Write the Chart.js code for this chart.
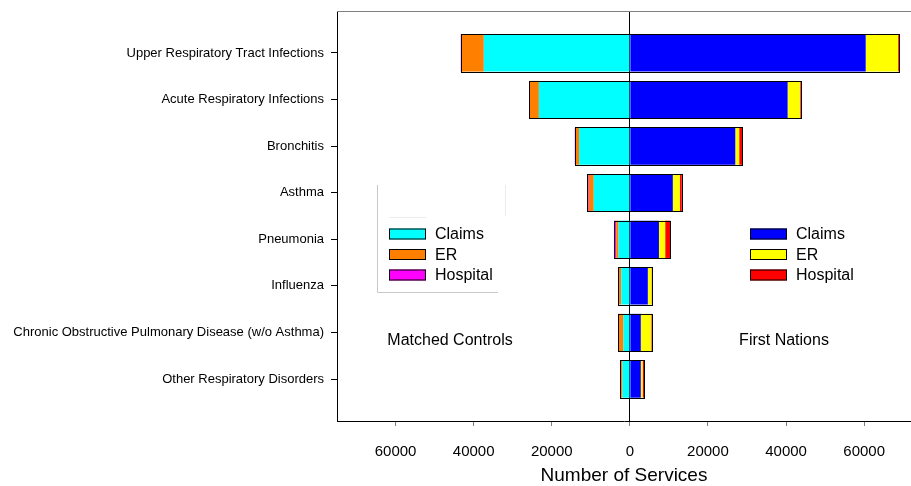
<!DOCTYPE html>
<html><head><meta charset="utf-8">
<script src="https://cdn.jsdelivr.net/npm/chart.js@4.4.1/dist/chart.umd.min.js"></script>
<style>html,body{margin:0;padding:0;background:#fff}#wrap{width:911px;height:486px;position:relative}</style>
</head><body><div id="wrap"><canvas id="c"></canvas></div>
<script>
const categories = [
  'Upper Respiratory Tract Infections',
  'Acute Respiratory Infections',
  'Bronchitis',
  'Asthma',
  'Pneumonia',
  'Influenza',
  'Chronic Obstructive Pulmonary Disease (w/o Asthma)',
  'Other Respiratory Disorders'
];
const seriesNames = ['Claims', 'ER', 'Hospital'];
// Matched Controls (drawn to the left)
const controlsClaims   = [37400, 23300, 13000, 9250, 2900, 2200, 1650, 1880];
const controlsER       = [5700, 2400, 850, 1280, 600, 700, 1200, 430];
const controlsHospital = [200, 100, 250, 350, 500, 100, 100, 100];
// First Nations (drawn to the right)
const fnClaims   = [60400, 40400, 27000, 11000, 7450, 4600, 2800, 2800];
const fnER       = [8300, 3150, 1000, 1800, 1600, 950, 2650, 500];
const fnHospital = [250, 200, 800, 500, 1280, 150, 150, 350];
const xTickValues = [-60000, -40000, -20000, 0, 20000, 40000, 60000];

Chart.defaults.font.family = "'Liberation Sans', Arial, sans-serif";
Chart.defaults.color = '#000';

const toPts = (arr, sign) => arr.map((v, i) => ({ x: sign * v, y: i }));

const ds = (label, arr, sign, color, group) => ({
  label, group, data: toPts(arr, sign), backgroundColor: color,
  borderWidth: 0, stack: 'all', barPercentage: 0.8, categoryPercentage: 1.0
});

const datasets = [
  ds('Claims', controlsClaims, -1, '#00FFFF', 'left'),
  ds('ER', controlsER, -1, '#FF8000', 'left'),
  ds('Hospital', controlsHospital, -1, '#FF00FF', 'left'),
  ds('Claims', fnClaims, 1, '#0000FF', 'right'),
  ds('ER', fnER, 1, '#FFFF00', 'right'),
  ds('Hospital', fnHospital, 1, '#FF0000', 'right')
];

const decor = {
  id: 'decor',
  afterDatasetsDraw(chart) {
    const ctx = chart.ctx;
    const ca = chart.chartArea;
    ctx.save();
    // outline each stacked bar
    ctx.strokeStyle = '#000';
    ctx.lineWidth = 1;
    for (let i = 0; i < categories.length; i++) {
      let l = Infinity, r = -Infinity, t = 0, b = 0;
      chart.data.datasets.forEach((d, di) => {
        const el = chart.getDatasetMeta(di).data[i];
        if (!el) return;
        const p = el.getProps(['x', 'y', 'base', 'height'], true);
        l = Math.min(l, p.x, p.base); r = Math.max(r, p.x, p.base);
        t = p.y - p.height / 2; b = p.y + p.height / 2;
      });
      ctx.strokeRect(Math.round(l) + 0.5, Math.round(t) + 0.5, Math.round(r) - Math.round(l), Math.round(b) - Math.round(t));
    }
    // top frame line
    ctx.strokeStyle = '#808080';
    ctx.beginPath();
    ctx.moveTo(ca.left, ca.top + 0.5);
    ctx.lineTo(ca.right, ca.top + 0.5);
    ctx.stroke();

    // left legend frame remnants
    ctx.strokeStyle = '#c8c8c8';
    ctx.beginPath();
    ctx.moveTo(377.5, 185); ctx.lineTo(377.5, 292.5);
    ctx.lineTo(498, 292.5);
    ctx.stroke();
    ctx.strokeStyle = '#ececec';
    ctx.beginPath();
    ctx.moveTo(505.5, 185); ctx.lineTo(505.5, 216);
    ctx.moveTo(389, 217.5); ctx.lineTo(426, 217.5);
    ctx.stroke();

    // legends
    const drawLegend = (group, sx, tx) => {
      const rows = [234, 254.5, 275];
      const items = chart.data.datasets.filter(d => d.group === group);
      ctx.font = "16px 'Liberation Sans', Arial, sans-serif";
      ctx.textBaseline = 'middle';
      ctx.textAlign = 'left';
      items.forEach((d, k) => {
        const y = rows[k];
        ctx.fillStyle = d.backgroundColor;
        ctx.fillRect(sx, y - 5.5, 37, 11);
        ctx.strokeStyle = '#000';
        ctx.lineWidth = 1;
        ctx.strokeRect(sx + 0.5, y - 5.5 + 0.5, 36, 10);
        ctx.fillStyle = '#000';
        ctx.fillText(seriesNames[k], tx, y + 1);
      });
    };
    drawLegend('left', 389, 435);
    drawLegend('right', 750, 796);

    ctx.font = "16px 'Liberation Sans', Arial, sans-serif";
    ctx.textAlign = 'center';
    ctx.textBaseline = 'middle';
    ctx.fillStyle = '#000';
    ctx.fillText('Matched Controls', 450, 341);
    ctx.fillText('First Nations', 784, 341);
    ctx.restore();
  }
};

new Chart(document.getElementById('c'), {
  type: 'bar',
  data: { datasets },
  options: {
    indexAxis: 'y',
    responsive: true,
    maintainAspectRatio: false,
    animation: false,
    layout: { padding: { top: 11, right: 0, left: 0, bottom: 0 } },
    plugins: { legend: { display: false }, tooltip: { enabled: false } },
    scales: {
      x: {
        type: 'linear',
        stacked: true,
        min: -75000,
        max: 72000,
        afterBuildTicks: s => { s.ticks = xTickValues.map(v => ({ value: v })); },
        afterFit: s => { s.height = 65; s.paddingLeft = 0; s.paddingRight = 0; },
        ticks: {
          callback: v => String(Math.abs(v)),
          font: { size: 15 },
          padding: 17,
          maxRotation: 0,
          autoSkip: false
        },
        grid: {
          drawOnChartArea: true,
          color: c => (c.tick && c.tick.value === 0) ? '#000' : 'rgba(0,0,0,0)',
          tickColor: '#808080',
          tickLength: 5,
          lineWidth: 1
        },
        border: { display: true, color: '#000', width: 1 },
        title: {
          display: true,
          text: 'Number of Services',
          font: { size: 19, lineHeight: 1.0 },
          padding: { top: 0, bottom: 1 }
        }
      },
      y: {
        type: 'linear',
        reverse: true,
        offset: false,
        min: -0.9,
        max: 7.9,
        afterBuildTicks: s => { s.ticks = categories.map((_, i) => ({ value: i })); },
        afterFit: s => { s.width = 337; s.paddingTop = 0; s.paddingBottom = 0; },
        ticks: {
          callback: v => categories[v],
          font: { size: 13 },
          padding: 7,
          autoSkip: false
        },
        grid: {
          offset: false,
          drawOnChartArea: false,
          tickColor: '#000',
          tickLength: 6
        },
        border: { display: true, color: '#000', width: 1 }
      }
    }
  },
  plugins: [decor]
});
</script>
</body></html>
